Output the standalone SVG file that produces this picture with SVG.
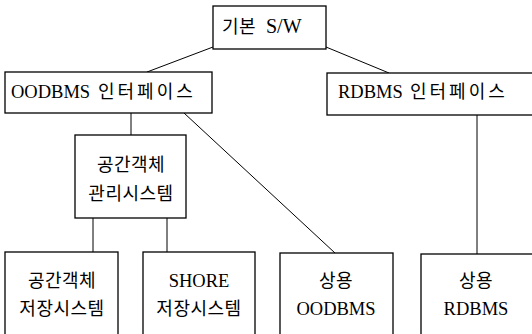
<svg xmlns="http://www.w3.org/2000/svg" width="532" height="334" viewBox="0 0 532 334">
<style>
rect.box{fill:#fff;stroke:#000;stroke-width:1.3}
.conn line{stroke:#000;stroke-width:1}
text{fill:#000;text-anchor:middle}
text.l{font-family:'Liberation Serif',serif;font-size:18.5px}
text.k{font-family:'Noto Sans CJK KR',sans-serif;font-size:18px;letter-spacing:0.5px}
text.s{text-anchor:start}
text.kw{letter-spacing:3px}
</style>
<rect width="532" height="334" fill="#fff"/>
<g id="connectors" class="conn">
<line x1="213" y1="47" x2="147" y2="72"/>
<line x1="326" y1="47" x2="389" y2="73"/>
<line x1="131" y1="113" x2="131" y2="135"/>
<line x1="184" y1="113" x2="335" y2="253"/>
<line x1="477" y1="115" x2="477" y2="254"/>
<line x1="93" y1="218" x2="93" y2="252"/>
<line x1="167" y1="218" x2="167" y2="252"/>
</g>
<g id="basic-sw">
<rect class="box" x="213" y="6" width="113" height="43"/>
<text x="222" y="33" class="k s">기본</text>
<text x="266" y="33" class="l s" style="font-size:20px">S/W</text>
</g>
<g id="oodbms-if">
<rect class="box" x="5" y="72" width="207" height="41"/>
<text x="11" y="98" class="l s">OODBMS</text>
<text x="98" y="98" class="k s kw">인터페이스</text>
</g>
<g id="rdbms-if">
<rect class="box" x="327" y="73" width="210" height="42"/>
<text x="338" y="98" class="l s">RDBMS</text>
<text x="410" y="98" class="k s kw">인터페이스</text>
</g>
<g id="spatial-mgmt">
<rect class="box" x="75" y="135" width="111" height="83"/>
<text x="131" y="171" class="k">공간객체</text>
<text x="131" y="200" class="k">관리시스템</text>
</g>
<g id="spatial-store">
<rect class="box" x="5" y="252" width="113" height="100"/>
<text x="62" y="287" class="k">공간객체</text>
<text x="62" y="315" class="k">저장시스템</text>
</g>
<g id="shore">
<rect class="box" x="143" y="252" width="112" height="100"/>
<text x="199" y="287" class="l">SHORE</text>
<text x="199" y="315" class="k">저장시스템</text>
</g>
<g id="commercial-oodbms">
<rect class="box" x="280" y="253" width="113" height="100"/>
<text x="336" y="287" class="k">상용</text>
<text x="336" y="315" class="l">OODBMS</text>
</g>
<g id="commercial-rdbms">
<rect class="box" x="421" y="254" width="120" height="100"/>
<text x="476" y="287" class="k">상용</text>
<text x="476" y="315" class="l">RDBMS</text>
</g>
</svg>
